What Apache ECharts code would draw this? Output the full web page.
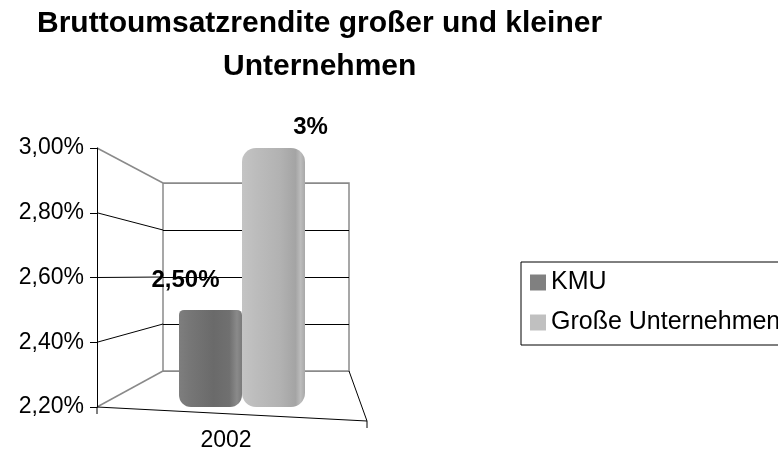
<!DOCTYPE html>
<html>
<head>
<meta charset="utf-8">
<script src="https://cdn.jsdelivr.net/npm/echarts@6/dist/echarts.min.js"></script>
<style>
html,body{margin:0;padding:0;background:#fff;}
#chart{width:778px;height:453px;}
</style>
</head>
<body>
<div id="chart"></div>
<script>
// ---- data ----
const categories = ['2002'];
const seriesNames = ['KMU', 'Große Unternehmen'];
const kmuValues = [2.5];
const grosseValues = [3.0];
const yMin = 2.2, yMax = 3.0, yStep = 0.2;
const yTicks = [2.2, 2.4, 2.6, 2.8, 3.0];
const titleLines = ['Bruttoumsatzrendite großer und kleiner', 'Unternehmen'];

// ---- layout (styling only) ----
const FONT = '"Liberation Sans", Arial, sans-serif';
const FRONT_LEFT = 97, FRONT_TOP = 148, FRONT_BOTTOM = 407, FRONT_RIGHT = 387;
const BACK_LEFT = 163, BACK_RIGHT = 349, BACK_TOP = 183, BACK_BOTTOM = 371;
const FLOOR_RIGHT = 367, FLOOR_DROP = 14;
const TITLE_CENTER = 320, TITLE_SIZE = 30, TITLE_TOP = 9, TITLE_LINE = 43;

const fmtAxis = v => v.toFixed(2).replace('.', ',') + '%';

// measure each title line so it can be centred at TITLE_CENTER
const ctx = document.createElement('canvas').getContext('2d');
ctx.font = 'bold ' + TITLE_SIZE + 'px ' + FONT;
const titles = titleLines.map((t, i) => ({
  text: t,
  left: Math.round(TITLE_CENTER - ctx.measureText(t).width / 2),
  top: TITLE_TOP + i * TITLE_LINE,
  padding: 0,
  textStyle: {fontFamily: FONT, fontWeight: 'bold', fontSize: TITLE_SIZE, color: '#000'}
}));

const chart = echarts.init(document.getElementById('chart'), null, {renderer: 'canvas'});

const option = {
  animation: false,
  backgroundColor: '#fff',
  title: titles,
  legend: {
    orient: 'vertical',
    left: 521,
    top: 262,
    padding: [8, 60, 10, 9],
    itemGap: 15,
    itemWidth: 16,
    itemHeight: 16,
    icon: 'rect',
    borderColor: '#000',
    borderWidth: 1,
    data: [
      {name: seriesNames[0], itemStyle: {color: '#808080'}},
      {name: seriesNames[1], itemStyle: {color: '#c0c0c0'}}
    ],
    textStyle: {fontFamily: FONT, fontSize: 25, lineHeight: 22, color: '#000'}
  },
  grid: [
    {left: FRONT_LEFT, top: FRONT_TOP, width: FRONT_RIGHT - FRONT_LEFT, height: FRONT_BOTTOM - FRONT_TOP},
    {left: BACK_LEFT, top: BACK_TOP, width: BACK_RIGHT - BACK_LEFT, height: BACK_BOTTOM - BACK_TOP,
     show: true, borderColor: '#8a8a8a', borderWidth: 1.5, backgroundColor: 'transparent'}
  ],
  xAxis: [
    {type: 'category', gridIndex: 0, data: categories,
     axisLine: {show: false}, axisTick: {show: false},
     axisLabel: {fontFamily: FONT, fontSize: 23, color: '#000', margin: 22, padding: [0, 32, 0, 0]}},
    {type: 'category', gridIndex: 1, data: categories, show: false}
  ],
  yAxis: [
    {type: 'value', gridIndex: 0, min: yMin, max: yMax, interval: yStep,
     axisLine: {show: true, lineStyle: {color: '#000', width: 1}},
     axisTick: {show: true, length: 7, inside: false, lineStyle: {color: '#000'}},
     axisLabel: {fontFamily: FONT, fontSize: 23, color: '#000', margin: 13, formatter: fmtAxis},
     splitLine: {show: false}},
    {type: 'value', gridIndex: 1, min: yMin, max: yMax, interval: yStep,
     axisLine: {show: false}, axisTick: {show: false}, axisLabel: {show: false},
     splitLine: {show: true, lineStyle: {color: ['#8a8a8a', '#000', '#000', '#000', '#8a8a8a'], width: 1}}}
  ],
  series: [
    {
      name: seriesNames[0], type: 'bar', xAxisIndex: 0, yAxisIndex: 0,
      data: kmuValues, barWidth: 63, barGap: '0%',
      itemStyle: {
        color: new echarts.graphic.LinearGradient(0, 0, 1, 0, [
          {offset: 0, color: '#7e7e7e'}, {offset: 0.15, color: '#777'},
          {offset: 0.55, color: '#6a6a6a'}, {offset: 0.8, color: '#707070'},
          {offset: 0.92, color: '#8a8a8a'}, {offset: 1, color: '#7a7a7a'}
        ]),
        borderRadius: [5, 5, 12, 12]
      },
      label: {show: true, position: 'top', distance: 5, offset: [-25, -13],
        fontFamily: FONT, fontWeight: 'bold', fontSize: 24, color: '#000',
        formatter: p => p.value.toFixed(2).replace('.', ',') + '%'}
    },
    {
      name: seriesNames[1], type: 'bar', xAxisIndex: 0, yAxisIndex: 0,
      data: grosseValues, barWidth: 63, barGap: '0%',
      itemStyle: {
        color: new echarts.graphic.LinearGradient(0, 0, 1, 0, [
          {offset: 0, color: '#c4c4c4'}, {offset: 0.2, color: '#bdbdbd'},
          {offset: 0.6, color: '#b2b2b2'}, {offset: 0.85, color: '#a4a4a4'},
          {offset: 0.93, color: '#bcbcbc'}, {offset: 1, color: '#a8a8a8'}
        ]),
        borderRadius: [14, 14, 14, 14]
      },
      label: {show: true, position: 'top', distance: 5, offset: [37, -4],
        fontFamily: FONT, fontWeight: 'bold', fontSize: 24, color: '#000',
        formatter: p => p.value.toFixed(0) + '%'}
    }
  ]
};

chart.setOption(option);

// 3D side wall and floor, derived from the two axis scales
const graphics = [];
yTicks.forEach((v, i) => {
  const fy = chart.convertToPixel({yAxisIndex: 0}, v);
  const by = chart.convertToPixel({yAxisIndex: 1}, v);
  const edge = (i === 0 || i === yTicks.length - 1);
  graphics.push({
    type: 'line', z: 0, silent: true,
    shape: {x1: FRONT_LEFT, y1: fy, x2: BACK_LEFT, y2: by},
    style: {stroke: edge ? '#8a8a8a' : '#000', lineWidth: edge ? 1.5 : 1}
  });
});
const fBottom = chart.convertToPixel({yAxisIndex: 0}, yMin);
const bBottom = chart.convertToPixel({yAxisIndex: 1}, yMin);
[
  [FRONT_LEFT, fBottom, FLOOR_RIGHT, fBottom + FLOOR_DROP],
  [FLOOR_RIGHT, fBottom + FLOOR_DROP, BACK_RIGHT, bBottom],
  [FRONT_LEFT, fBottom, FRONT_LEFT, fBottom + 7],
  [FLOOR_RIGHT, fBottom + FLOOR_DROP, FLOOR_RIGHT, fBottom + FLOOR_DROP + 7]
].forEach(s => graphics.push({type: 'line', z: 0, silent: true,
  shape: {x1: s[0], y1: s[1], x2: s[2], y2: s[3]},
  style: {stroke: '#000', lineWidth: 1}}));

chart.setOption({graphic: graphics});
</script>
</body>
</html>
